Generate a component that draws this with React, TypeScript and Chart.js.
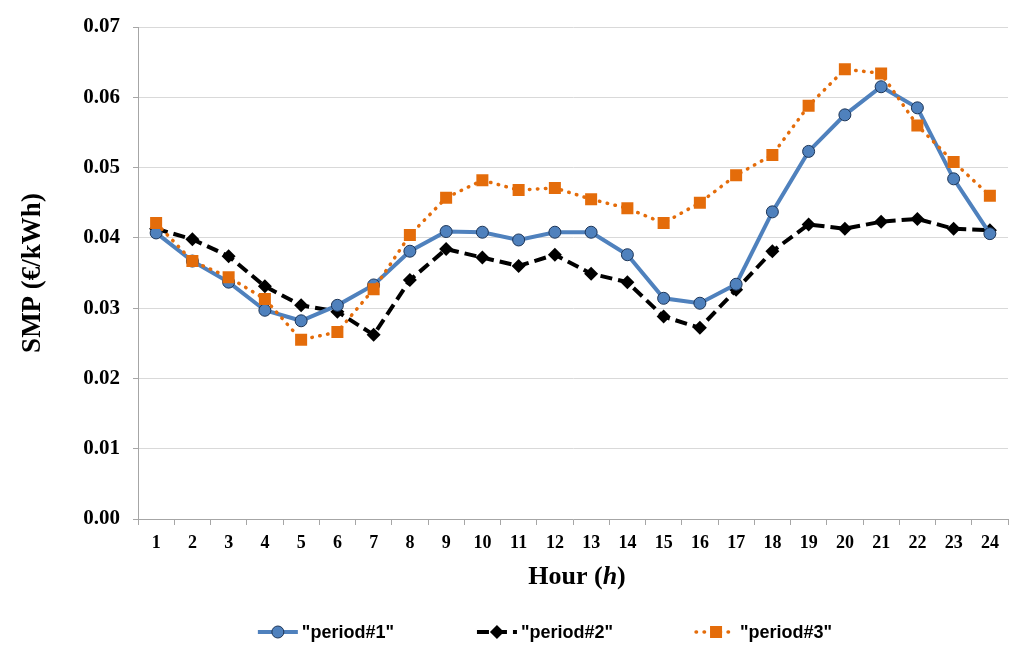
import { useEffect, useRef } from 'react';
import { Chart, registerables } from 'chart.js';

Chart.register(...registerables);

const hours = ['1', '2', '3', '4', '5', '6', '7', '8', '9', '10', '11', '12', '13', '14', '15', '16', '17', '18', '19', '20', '21', '22', '23', '24'];
const period1 = [0.0407, 0.0367, 0.0337, 0.0297, 0.0282, 0.0304, 0.0333, 0.0381, 0.0409, 0.0408, 0.0397, 0.0408, 0.0408, 0.0376, 0.0314, 0.0307, 0.0334, 0.0437, 0.0523, 0.0575, 0.0615, 0.0585, 0.0484, 0.0406];
const period2 = [0.0413, 0.0398, 0.0374, 0.0331, 0.0304, 0.0295, 0.0262, 0.0340, 0.0384, 0.0372, 0.0360, 0.0376, 0.0349, 0.0337, 0.0288, 0.0272, 0.0326, 0.0381, 0.0419, 0.0413, 0.0423, 0.0427, 0.0413, 0.0411];
const period3 = [0.0421, 0.0367, 0.0344, 0.0313, 0.0255, 0.0266, 0.0327, 0.0404, 0.0457, 0.0482, 0.0468, 0.0471, 0.0455, 0.0442, 0.0421, 0.0450, 0.0489, 0.0518, 0.0588, 0.0640, 0.0634, 0.0560, 0.0508, 0.0460];
const seriesNames = ['"period#1"', '"period#2"', '"period#3"'];
const yMin = 0;
const yMax = 0.07;
const yStep = 0.01;
const yTitle = 'SMP (€/kWh)';
const xTitleParts = ['Hour (', 'h', ')'];

const BLUE = '#4F81BD';
const ORANGE = '#E46C0A';
const SERIF = '"Liberation Serif", "Times New Roman", serif';
const SANS = '"Liberation Sans", Arial, sans-serif';

function drawMarker(ctx: CanvasRenderingContext2D, style: string, x: number, y: number, r: number, fill: string, stroke: string, bw: number) {
  ctx.save();
  ctx.setLineDash([]);
  ctx.fillStyle = fill;
  ctx.strokeStyle = stroke;
  ctx.lineWidth = bw;
  ctx.beginPath();
  if (style === 'circle') {
    ctx.arc(x, y, r, 0, Math.PI * 2);
  } else if (style === 'rect') {
    const s = r * Math.SQRT1_2;
    ctx.rect(x - s, y - s, 2 * s, 2 * s);
  } else {
    ctx.moveTo(x, y - r);
    ctx.lineTo(x + r, y);
    ctx.lineTo(x, y + r);
    ctx.lineTo(x - r, y);
    ctx.closePath();
  }
  ctx.fill();
  if (bw > 0) ctx.stroke();
  ctx.restore();
}

const decorPlugin = {
  id: 'decor',
  afterDraw(chart: any) {
    const ctx: CanvasRenderingContext2D = chart.ctx;
    const area = chart.chartArea;
    // x axis title with italic h
    ctx.save();
    const fBold = `bold 26px ${SERIF}`;
    const fItal = `italic bold 26px ${SERIF}`;
    ctx.font = fBold;
    const w0 = ctx.measureText(xTitleParts[0]).width;
    const w2 = ctx.measureText(xTitleParts[2]).width;
    ctx.font = fItal;
    const w1 = ctx.measureText(xTitleParts[1]).width;
    const total = w0 + w1 + w2;
    let x = (area.left + area.right) / 2 + 4 - total / 2;
    const ty = area.bottom + 58;
    ctx.textBaseline = 'middle';
    ctx.fillStyle = '#000';
    ctx.font = fBold;
    ctx.fillText(xTitleParts[0], x, ty);
    x += w0;
    ctx.font = fItal;
    ctx.fillText(xTitleParts[1], x, ty);
    x += w1;
    ctx.font = fBold;
    ctx.fillText(xTitleParts[2], x, ty);
    ctx.restore();

    // legend
    ctx.save();
    ctx.font = `bold 18px ${SANS}`;
    const iconW = 40;
    const iconGap = 4;
    const itemGap = 83;
    const ds = chart.data.datasets;
    const widths = ds.map((d: any) => iconW + iconGap + ctx.measureText(d.label).width);
    const totalW = widths.reduce((a: number, b: number) => a + b, 0) + itemGap * (ds.length - 1);
    let lx = (area.left + area.right) / 2 - 28 - totalW / 2;
    const ly = area.bottom + 113;
    ds.forEach((d: any, i: number) => {
      ctx.save();
      ctx.strokeStyle = d.borderColor;
      ctx.lineWidth = d.borderWidth;
      ctx.setLineDash(d.borderDash || []);
      ctx.lineCap = d.borderCapStyle || 'butt';
      ctx.beginPath();
      ctx.moveTo(lx, ly);
      ctx.lineTo(lx + iconW, ly);
      ctx.stroke();
      ctx.restore();
      drawMarker(ctx, d.pointStyle, lx + iconW / 2, ly, d.pointRadius, d.pointBackgroundColor, d.pointBorderColor, d.pointBorderWidth);
      ctx.fillStyle = '#000';
      ctx.textBaseline = 'middle';
      ctx.fillText(d.label, lx + iconW + iconGap, ly + 1);
      lx += widths[i] + itemGap;
    });
    ctx.restore();
  },
};

export default function App() {
  const ref = useRef<HTMLCanvasElement | null>(null);
  useEffect(() => {
    if (!ref.current) return;
    const chart = new Chart(ref.current, {
      type: 'line',
      data: {
        labels: hours,
        datasets: [
          {
            label: seriesNames[0],
            data: period1,
            borderColor: BLUE,
            borderWidth: 4,
            pointStyle: 'circle',
            pointRadius: 6,
            pointBackgroundColor: BLUE,
            pointBorderColor: '#1d3557',
            pointBorderWidth: 1,
            tension: 0,
            order: 2,
          },
          {
            label: seriesNames[1],
            data: period2,
            borderColor: '#000',
            borderWidth: 4,
            borderDash: [12, 6],
            pointStyle: 'rectRot',
            pointRadius: 7,
            pointBackgroundColor: '#000',
            pointBorderColor: '#000',
            pointBorderWidth: 0,
            tension: 0,
            order: 3,
          },
          {
            label: seriesNames[2],
            data: period3,
            borderColor: ORANGE,
            borderWidth: 3.5,
            borderDash: [0.5, 7.5],
            borderCapStyle: 'round',
            pointStyle: 'rect',
            pointRadius: 8.5,
            pointBackgroundColor: ORANGE,
            pointBorderColor: ORANGE,
            pointBorderWidth: 0,
            tension: 0,
            order: 1,
          },
        ] as any,
      },
      options: {
        animation: false,
        responsive: false,
        devicePixelRatio: 1,
        layout: { padding: { top: 27, right: 16, bottom: 60, left: 0 } },
        plugins: {
          legend: { display: false },
          tooltip: { enabled: false },
        },
        scales: {
          x: {
            type: 'category',
            offset: true,
            afterFit: (s: any) => { s.height = 77; },
            grid: {
              display: true,
              drawOnChartArea: false,
              drawTicks: true,
              tickLength: 6,
              offset: true,
              color: '#a6a6a6',
            },
            border: { display: true, color: '#a6a6a6', width: 1 },
            ticks: {
              color: '#000',
              font: { family: SERIF, size: 18, weight: 'bold' },
              padding: 8,
              maxRotation: 0,
              autoSkip: false,
            },
          },
          y: {
            min: yMin,
            max: yMax,
            afterFit: (s: any) => { s.width = 138; },
            grid: {
              color: '#d9d9d9',
              tickColor: '#a6a6a6',
              tickLength: 5,
              drawTicks: true,
            },
            border: { display: true, color: '#a6a6a6', width: 1 },
            ticks: {
              stepSize: yStep,
              color: '#000',
              font: { family: SERIF, size: 21, weight: 'bold' },
              padding: 13,
              callback: (v: any) => Number(v).toFixed(2),
            },
            title: {
              display: true,
              text: yTitle,
              color: '#000',
              font: { family: SERIF, size: 27, weight: 'bold' },
              padding: { top: 17, bottom: 0 },
            },
          },
        },
      } as any,
      plugins: [decorPlugin],
    });
    return () => chart.destroy();
  }, []);
  return (
    <div style={{ position: 'fixed', left: 0, top: 0, width: 1024, height: 656, background: '#fff' }}>
      <canvas ref={ref} width={1024} height={656} style={{ width: 1024, height: 656, display: 'block' }} />
    </div>
  );
}
